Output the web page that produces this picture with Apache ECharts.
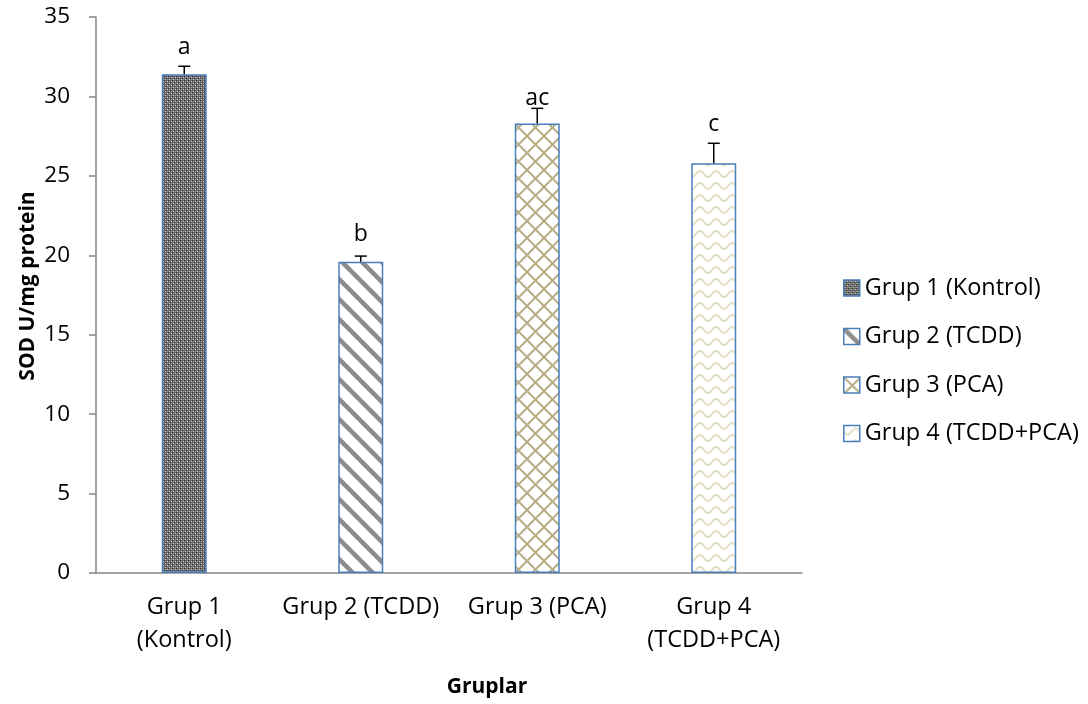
<!DOCTYPE html>
<html><head><meta charset="utf-8">
<script src="https://cdn.jsdelivr.net/npm/echarts@6/dist/echarts.min.js"></script>
<style>html,body{margin:0;padding:0;background:#fff}#c{width:1088px;height:704px}</style>
</head><body><div id="c"></div>
<script>
// ---- data ----
const categories = ['Grup 1\n(Kontrol)', 'Grup 2 (TCDD)', 'Grup 3 (PCA)', 'Grup 4\n(TCDD+PCA)'];
const legendNames = ['Grup 1 (Kontrol)', 'Grup 2 (TCDD)', 'Grup 3 (PCA)', 'Grup 4 (TCDD+PCA)'];
const means = [31.4, 19.6, 28.3, 25.8];
const errors = [0.5, 0.35, 0.95, 1.25];
const letters = ['a', 'b', 'ac', 'c'];
const letterLevels = [33.1, 21.3, 29.85, 28.25];
const yMin = 0, yMax = 35, yInterval = 5;
const xTitle = 'Gruplar';
const yTitle = 'SOD U/mg protein';

// ---- patterns ----
function tile(w, h, draw) {
  const c = document.createElement('canvas');
  c.width = w; c.height = h;
  const ctx = c.getContext('2d');
  ctx.fillStyle = '#fff'; ctx.fillRect(0, 0, w, h);
  draw(ctx, w, h);
  return c;
}
const p1 = tile(4, 4, (ctx) => {
  ctx.fillStyle = '#666'; ctx.fillRect(0, 0, 4, 4);
  ctx.fillStyle = '#333'; ctx.fillRect(0, 0, 1, 1); ctx.fillRect(2, 2, 1, 1);
  ctx.fillStyle = '#d8d8d8'; ctx.fillRect(1, 3, 1, 1); ctx.fillRect(3, 1, 1, 1);
  ctx.fillStyle = '#999'; ctx.fillRect(1, 1, 1, 1); ctx.fillRect(3, 3, 1, 1);
});
const p2 = tile(20, 20, (ctx) => {
  ctx.strokeStyle = '#8c8c8c'; ctx.lineWidth = 4.5;
  for (let k = -20; k <= 20; k += 20) {
    ctx.beginPath(); ctx.moveTo(-5, k - 5); ctx.lineTo(25, k + 25); ctx.stroke();
  }
});
const p3 = tile(17, 17, (ctx) => {
  ctx.strokeStyle = '#b7ad86'; ctx.lineWidth = 2;
  for (let k = -17; k <= 17; k += 17) {
    ctx.beginPath(); ctx.moveTo(-2, k - 2); ctx.lineTo(19, k + 19); ctx.stroke();
    ctx.beginPath(); ctx.moveTo(-2, 17 - k + 2); ctx.lineTo(19, -k - 2); ctx.stroke();
  }
});
const p4 = tile(16, 12, (ctx) => {
  ctx.strokeStyle = '#e4dec6'; ctx.lineWidth = 2;
  ctx.beginPath();
  for (let x = -1; x <= 17; x += 0.5) {
    const y = 6 + 3 * Math.sin(2 * Math.PI * x / 16);
    if (x === -1) ctx.moveTo(x, y); else ctx.lineTo(x, y);
  }
  ctx.stroke();
});
const patterns = [p1, p2, p3, p4];

const font = '"Open Sans"';
const chart = echarts.init(document.getElementById('c'));

const barSeries = legendNames.map((name, i) => ({
  type: 'bar',
  name: name,
  data: categories.map((c, j) => (j === i ? means[i] : '-')),
  barWidth: '25.5%',
  barGap: '-100%',
  itemStyle: {
    color: { image: patterns[i], repeat: 'repeat' },
    borderColor: '#4a7ebb',
    borderWidth: 1.5
  },
  emphasis: { disabled: true }
}));

const errSeries = {
  type: 'custom',
  name: 'err',
  z: 10,
  data: categories.map((c, i) => [i, means[i], errors[i], letterLevels[i]]),
  encode: { x: 0, y: 1 },
  renderItem: function (params, api) {
    const i = api.value(0), m = api.value(1), e = api.value(2), l = api.value(3);
    const a = api.coord([i, m]), b = api.coord([i, m + e]), t = api.coord([i, l]);
    return {
      type: 'group',
      children: [
        { type: 'line', shape: { x1: a[0], y1: a[1], x2: b[0], y2: b[1] }, style: { stroke: '#000', lineWidth: 1.5 } },
        { type: 'line', shape: { x1: b[0] - 6, y1: b[1], x2: b[0] + 6, y2: b[1] }, style: { stroke: '#000', lineWidth: 1.5 } },
        { type: 'text', style: { x: t[0], y: t[1], text: letters[i], align: 'center', verticalAlign: 'middle', font: '23px ' + font, fill: '#000' } }
      ]
    };
  }
};

chart.setOption({
  animation: false,
  backgroundColor: '#fff',
  grid: { left: 96, right: 286, top: 17, bottom: 131, containLabel: false },
  legend: {
    data: legendNames,
    orient: 'vertical',
    left: 843,
    top: 276,
    padding: 0,
    itemWidth: 16,
    itemHeight: 16,
    itemGap: 24.5,
    icon: 'rect',
    selectedMode: false,
    itemStyle: { borderColor: '#4a7ebb', borderWidth: 1.5 },
    textStyle: { fontFamily: font, fontSize: 23.5, lineHeight: 22, color: '#000' }
  },
  xAxis: {
    type: 'category',
    data: categories,
    axisLine: { show: true, lineStyle: { color: '#868686', width: 1.5 } },
    axisTick: { show: false },
    axisLabel: { fontFamily: font, fontSize: 23.5, lineHeight: 33, color: '#000', margin: 18, interval: 0 },
    splitLine: { show: false }
  },
  yAxis: {
    type: 'value',
    min: yMin, max: yMax, interval: yInterval,
    axisLine: { show: true, lineStyle: { color: '#868686', width: 1.5 } },
    axisTick: { show: true, length: 7, lineStyle: { color: '#868686', width: 1.5 } },
    axisLabel: { fontFamily: font, fontSize: 22.5, color: '#000', margin: 26 },
    splitLine: { show: false }
  },
  graphic: [
    { type: 'text', x: 28, y: 286, rotation: Math.PI / 2,
      style: { text: yTitle, align: 'center', verticalAlign: 'middle', font: 'bold 21px ' + font, fill: '#000' } },
    { type: 'text', x: 487, y: 687,
      style: { text: xTitle, align: 'center', verticalAlign: 'middle', font: 'bold 21px ' + font, fill: '#000' } }
  ],
  series: barSeries.concat([errSeries])
});
</script>
</body></html>
